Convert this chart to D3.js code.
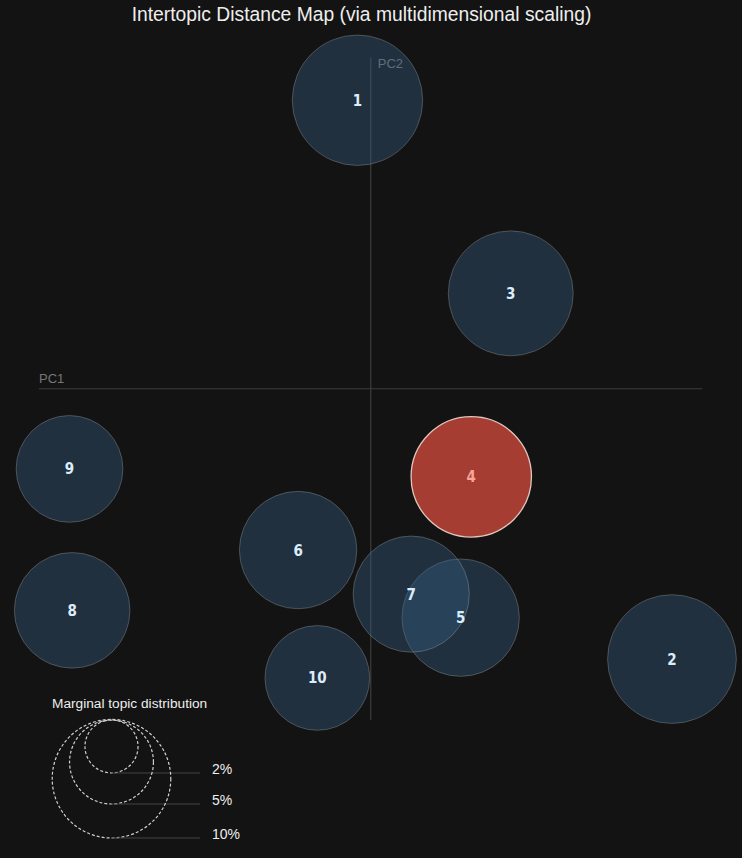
<!DOCTYPE html>
<html>
<head>
<meta charset="utf-8">
<script src="https://cdn.jsdelivr.net/npm/d3@7"></script>
<style>
  body { margin: 0; background: #131313; }
  svg { display: block; }
</style>
</head>
<body>
<svg id="idm" width="742" height="858"></svg>
<script>
// topic ids, MDS coordinates and marginal distribution (%)
var topics = ["1", "2", "3", "4", "5", "6", "7", "8", "9", "10"];
var pc1 = [-0.040, 0.908, 0.422, 0.303, 0.271, -0.219, 0.122, -0.900, -0.908, -0.161];
var pc2 = [0.871, -0.816, 0.288, -0.266, -0.691, -0.487, -0.620, -0.669, -0.242, -0.873];
var freq = [12.1, 11.8, 11.1, 10.3, 9.8, 9.8, 9.6, 9.5, 8.1, 7.8];
var selectedTopic = "4";
var legendSizes = [2, 5, 10];
var legendLabels = ["2%", "5%", "10%"];

function drawIntertopicMap() {
  var svg = d3.select("#idm");

  var data = [];
  for (var i = 0; i < topics.length; i++) {
    data.push({ topic: topics[i], x: pc1[i], y: pc2[i], freq: freq[i] });
  }

  var x = d3.scaleLinear().domain([-1, 1]).range([39, 702.5]);
  var y = d3.scaleLinear().domain([-1, 1]).range([720, 57.5]);
  var r = d3.scaleSqrt().domain([0, 10]).range([0, 59.3]);

  svg.append("text")
    .attr("x", 361.5)
    .attr("y", 21)
    .attr("text-anchor", "middle")
    .attr("fill", "#eeeeee")
    .style("font-family", "Liberation Sans, Arial, sans-serif")
    .style("font-size", "19.3px")
    .text("Intertopic Distance Map (via multidimensional scaling)");

  // axes through the origin
  svg.append("line")
    .attr("x1", x(-1)).attr("x2", x(1))
    .attr("y1", y(0)).attr("y2", y(0))
    .attr("stroke", "#3c3c3c").attr("stroke-width", 1.2);
  svg.append("line")
    .attr("x1", x(0)).attr("x2", x(0))
    .attr("y1", y(-1)).attr("y2", y(1))
    .attr("stroke", "#3c3c3c").attr("stroke-width", 1.2);

  svg.append("text")
    .attr("x", x(-1)).attr("y", y(0) - 6)
    .attr("fill", "#777").style("font-family", "Liberation Sans, Arial, sans-serif")
    .style("font-size", "13px").text("PC1");
  svg.append("text")
    .attr("x", x(0) + 7).attr("y", y(1) + 10)
    .attr("fill", "#777").style("font-family", "Liberation Sans, Arial, sans-serif")
    .style("font-size", "13px").text("PC2");

  // topic bubbles
  var g = svg.append("g");
  g.selectAll("circle.topic")
    .data(data)
    .enter()
    .append("circle")
    .attr("class", "topic")
    .attr("cx", function (d) { return x(d.x); })
    .attr("cy", function (d) { return y(d.y); })
    .attr("r", function (d) { return r(d.freq); })
    .attr("fill", function (d) { return d.topic == selectedTopic ? "#a63d32" : "rgb(56,96,134)"; })
    .attr("fill-opacity", function (d) { return d.topic == selectedTopic ? 1 : 0.38; })
    .attr("stroke", function (d) { return d.topic == selectedTopic ? "#e2c6bd" : "rgba(200,200,200,0.28)"; })
    .attr("stroke-width", function (d) { return d.topic == selectedTopic ? 1.3 : 1; });

  g.selectAll("text.topic")
    .data(data)
    .enter()
    .append("text")
    .attr("class", "topic")
    .attr("x", function (d) { return x(d.x); })
    .attr("y", function (d) { return y(d.y) + 5.5; })
    .attr("text-anchor", "middle")
    .attr("fill", function (d) { return d.topic == selectedTopic ? "#f7a596" : "#dcecfb"; })
    .style("font-family", "'DejaVu Sans Condensed', 'DejaVu Sans', sans-serif")
    .style("font-stretch", "condensed")
    .style("font-weight", "bold")
    .style("font-size", "15px")
    .text(function (d) { return d.topic; });

  // legend
  var lx = 111.5, lbottom = [773, 804, 838];
  svg.append("text")
    .attr("x", 52).attr("y", 708)
    .attr("fill", "#eeeeee")
    .style("font-family", "Liberation Sans, Arial, sans-serif")
    .style("font-size", "13.7px")
    .text("Marginal topic distribution");

  var leg = svg.append("g");
  for (var k = 0; k < legendSizes.length; k++) {
    var rr = r(legendSizes[k]);
    leg.append("circle")
      .attr("cx", lx)
      .attr("cy", lbottom[k] - rr)
      .attr("r", rr)
      .attr("fill", "none")
      .attr("stroke", "#cfcfcf")
      .attr("stroke-width", 1.2)
      .attr("stroke-dasharray", "3,2");
    leg.append("line")
      .attr("x1", lx).attr("x2", 200)
      .attr("y1", lbottom[k]).attr("y2", lbottom[k])
      .attr("stroke", "#444").attr("stroke-width", 1);
    leg.append("text")
      .attr("x", 212).attr("y", lbottom[k] + 1)
      .attr("fill", "#eeeeee")
      .style("font-family", "Liberation Sans, Arial, sans-serif")
      .style("font-size", "14px")
      .text(legendLabels[k]);
  }
}

drawIntertopicMap();
</script>
</body>
</html>
